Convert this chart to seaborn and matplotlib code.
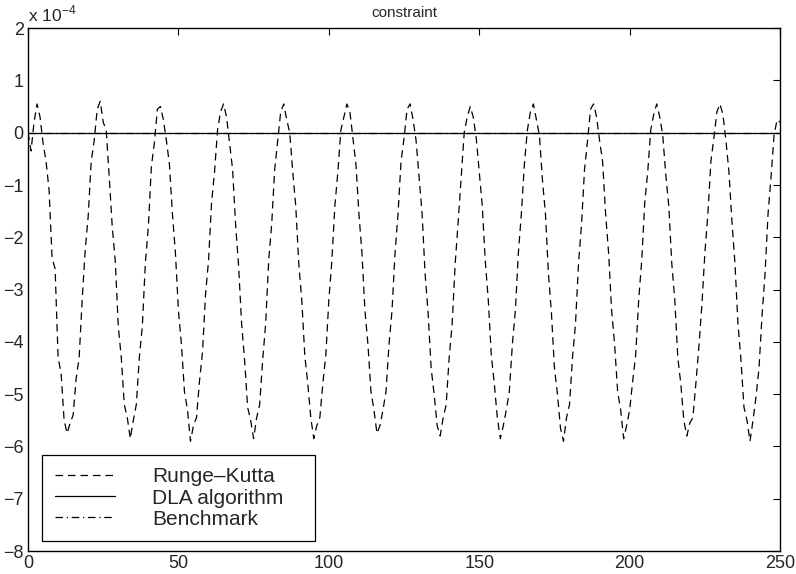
import numpy as np
import pandas as pd
import matplotlib
matplotlib.use("Agg")
import matplotlib.pyplot as plt
import seaborn as sns

# constraint value, in units of 1e-4, one sample per time step (t = 0..250)
rk_values = [
    0.00, -0.35, 0.20,
    # cycle 1
    0.55, 0.30, -0.20, -0.55, -1.10, -2.40, -2.60, -4.30, -4.60, -5.50, -5.75,
    -5.55, -5.40, -4.70, -4.30, -3.20, -2.25, -1.60, -0.55, -0.15, 0.45,
    # cycle 2
    0.60, 0.20, 0.05, -0.85, -1.80, -2.45, -3.70, -4.30, -5.20, -5.45, -5.85,
    -5.50, -5.20, -4.30, -3.70, -2.50, -1.80, -0.65, -0.20, 0.45,
    # cycle 3
    0.50, 0.25, -0.15, -0.60, -1.55, -2.30, -3.40, -4.05, -4.95, -5.30, -5.90,
    -5.60, -5.45, -4.75, -4.20, -3.10, -2.45, -1.35, -0.75, 0.05, 0.40,
    # cycle 4
    0.55, 0.30, -0.20, -0.70, -1.75, -2.55, -3.65, -4.35, -5.25, -5.50, -5.85,
    -5.45, -5.20, -4.35, -3.65, -2.45, -1.75, -0.70, -0.15, 0.40,
    # cycle 5
    0.55, 0.25, 0.00, -0.75, -1.40, -2.50, -3.20, -4.25, -4.80, -5.45, -5.85,
    -5.60, -5.45, -4.80, -4.25, -3.20, -2.45, -1.40, -0.75, 0.05, 0.30,
    # cycle 6
    0.55, 0.40, -0.10, -0.60, -1.55, -2.30, -3.40, -4.05, -4.95, -5.30, -5.75,
    -5.60, -5.30, -4.95, -4.05, -3.40, -2.30, -1.55, -0.55, -0.10, 0.45,
    # cycle 7
    0.55, 0.25, -0.15, -0.85, -1.55, -2.70, -3.45, -4.50, -5.00, -5.60, -5.80,
    -5.45, -5.20, -4.30, -3.65, -2.50, -1.70, -0.85, 0.00, 0.30,
    # cycle 8
    0.50, 0.30, -0.10, -0.75, -1.40, -2.45, -3.20, -4.25, -4.80, -5.45, -5.85,
    -5.60, -5.30, -4.95, -4.05, -3.40, -2.30, -1.55, -0.60, 0.05, 0.40,
    # cycle 9
    0.55, 0.25, -0.05, -0.90, -1.55, -2.70, -3.45, -4.50, -5.00, -5.65, -5.90,
    -5.45, -5.20, -4.30, -3.65, -2.50, -1.75, -0.70, -0.15, 0.45,
    # cycle 10
    0.55, 0.30, -0.15, -0.55, -1.55, -2.30, -3.40, -4.05, -4.95, -5.30, -5.85,
    -5.60, -5.30, -4.75, -4.25, -3.20, -2.45, -1.35, -0.75, 0.05, 0.35,
    # cycle 11
    0.55, 0.30, -0.05, -0.80, -1.40, -2.50, -3.20, -4.30, -4.80, -5.50, -5.80,
    -5.55, -5.45, -4.80, -4.10, -3.30, -2.30, -1.55, -0.55, -0.10, 0.40,
    # cycle 12
    0.55, 0.35, -0.15, -0.75, -1.70, -2.50, -3.65, -4.35, -5.25, -5.50, -5.90,
    -5.50, -5.05, -4.50, -3.50, -2.70, -1.55, -0.85, -0.05, 0.25,
    0.20,
]
t = np.arange(len(rk_values))
dla_values = [0.0] * len(rk_values)
bench_values = [0.0] * len(rk_values)

x_ticks = [0, 50, 100, 150, 200, 250]
y_ticks = [-8, -7, -6, -5, -4, -3, -2, -1, 0, 1, 2]

sns.set_style("white")
plt.rcParams['font.family'] = ['Liberation Sans', 'DejaVu Sans']
plt.rcParams['xtick.direction'] = 'in'
plt.rcParams['ytick.direction'] = 'in'

fig = plt.figure(figsize=(7.96, 5.74), dpi=100)
ax = fig.add_axes([0.0352, 0.040, 0.9448, 0.911])

sns.lineplot(x=t, y=rk_values, ax=ax, color='k', lw=0.9,
             linestyle=(0, (6, 4)), label='Runge\u2013Kutta')
sns.lineplot(x=t, y=dla_values, ax=ax, color='k', lw=0.9,
             linestyle='-', label='DLA algorithm')
sns.lineplot(x=t, y=bench_values, ax=ax, color='k', lw=0.9,
             linestyle=(0, (6, 3, 1, 3)), label='Benchmark')

ax.set_xlim(0, 250)
ax.set_ylim(-8, 2)
ax.set_xticks(x_ticks)
ax.set_yticks(y_ticks)
ax.set_yticklabels([str(v).replace('-', '\u2212') for v in y_ticks])
ax.tick_params(axis='both', which='both', top=True, right=True,
               length=5, width=0.8, labelsize=13, color='k', pad=3)
for s in ax.spines.values():
    s.set_visible(True)
    s.set_color('k')
    s.set_linewidth(1.0)

ax.set_title('constraint', fontsize=11, pad=8)
ax.text(0.0, 1.008, 'x 10$^{\\mathregular{\u22124}}$', transform=ax.transAxes,
        fontsize=12.5, ha='left', va='bottom')

leg = ax.legend(loc='lower left', bbox_to_anchor=(0.0186, 0.019, 0.363, 0.168),
                mode='expand', fontsize=15, frameon=True, fancybox=False,
                framealpha=1, edgecolor='k', handlelength=2.9,
                handletextpad=1.8, labelspacing=0.1, borderpad=0.6,
                borderaxespad=0)
leg.get_frame().set_linewidth(0.9)

fig.savefig('out.png', dpi=100)
